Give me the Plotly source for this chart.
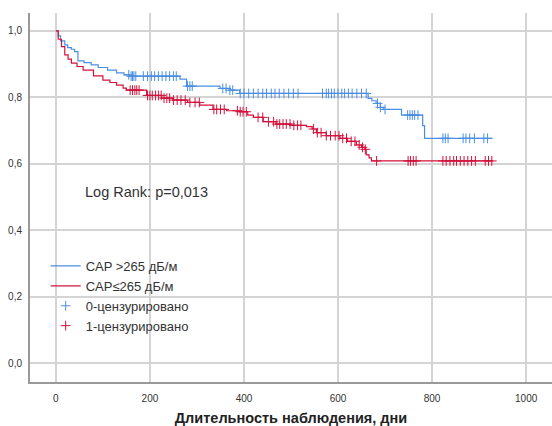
import numpy as np
import plotly.graph_objects as go

# Kaplan-Meier step data (time in days, survival)
blue_times = [0, 5, 10, 19, 25, 33, 40, 47, 60, 75, 90, 110, 129, 145, 157, 264, 278, 349, 370, 391,
              664, 672, 681, 690, 696, 735, 780, 784, 928]
blue_surv = [1.0, 0.985, 0.97, 0.958, 0.95, 0.945, 0.938, 0.91, 0.905, 0.898, 0.89, 0.882, 0.874, 0.868,
             0.864, 0.855, 0.834, 0.827, 0.822, 0.812, 0.797, 0.79, 0.782, 0.77, 0.764, 0.747, 0.715,
             0.677, 0.677]

red_times = [0, 5, 12, 19, 26, 33, 45, 58, 80, 100, 115, 129, 143, 150, 193, 225, 249, 280, 306, 334,
             363, 391, 408, 420, 441, 468, 500, 533, 545, 554, 575, 604, 620, 639, 650, 657, 660, 666,
             671, 928]
red_surv = [1.0, 0.975, 0.953, 0.928, 0.915, 0.903, 0.893, 0.882, 0.865, 0.852, 0.845, 0.837, 0.828,
            0.822, 0.806, 0.798, 0.792, 0.785, 0.777, 0.764, 0.76, 0.757, 0.747, 0.74, 0.727, 0.72,
            0.716, 0.712, 0.705, 0.694, 0.685, 0.677, 0.668, 0.657, 0.65, 0.644, 0.627, 0.618, 0.609,
            0.609]

blue_censor = [155, 160, 163, 166, 170, 186, 195, 203, 210, 218, 226, 234, 242, 250, 256, 280, 285, 290,
               355, 362, 370, 376, 392, 400, 410, 420, 430, 440, 448, 458, 466, 475, 485, 495, 505, 515,
               567, 575, 580, 586, 592, 600, 608, 614, 622, 630, 640, 650, 660, 684, 690, 700,
               748, 753, 758, 763, 770, 823, 828, 834, 866, 872, 880, 890, 910, 918]
red_censor = [158, 163, 168, 172, 177, 195, 200, 205, 212, 218, 224, 230, 236, 242, 250, 258, 266, 275,
              285, 296, 305, 336, 342, 350, 358, 386, 392, 398, 405, 430, 440, 452, 463, 470, 476, 483,
              490, 498, 506, 514, 521, 548, 556, 564, 575, 584, 594, 602, 610, 618, 628, 636, 645, 652,
              658, 682, 749, 754, 760, 766, 823, 830, 838, 846, 852, 860, 868, 876, 884, 892, 913, 920,
              927]

BLUE = "#4a8fe3"
RED = "#d3123c"


def surv_at(times, surv, ts):
    times = np.asarray(times)
    surv = np.asarray(surv)
    idx = np.searchsorted(times, np.asarray(ts), side="right") - 1
    return surv[idx]


fig = go.Figure()
fig.add_trace(go.Scatter(x=blue_times, y=blue_surv, mode="lines", line_shape="hv",
                         line=dict(color=BLUE, width=1.2), name="CAP >265 дБ/м"))
fig.add_trace(go.Scatter(x=red_times, y=red_surv, mode="lines", line_shape="hv",
                         line=dict(color=RED, width=1.2), name="CAP≤265 дБ/м"))
fig.add_trace(go.Scatter(x=blue_censor, y=surv_at(blue_times, blue_surv, blue_censor), mode="markers",
                         marker=dict(symbol="cross-thin", size=7, line=dict(color=BLUE, width=1)),
                         name="0-цензурировано"))
fig.add_trace(go.Scatter(x=red_censor, y=surv_at(red_times, red_surv, red_censor), mode="markers",
                         marker=dict(symbol="cross-thin", size=7, line=dict(color=RED, width=1)),
                         name="1-цензурировано"))

fig.add_annotation(x=57, y=0.515, xref="x", yref="y", text="Log Rank: p=0,013", showarrow=False,
                   xanchor="left", yanchor="middle",
                   font=dict(size=14.5, color="#333333", family="Arial, Liberation Sans"))

yvals = [0.0, 0.2, 0.4, 0.6, 0.8, 1.0]
ytext = ["0,0", "0,2", "0,4", "0,6", "0,8", "1,0"]
xvals = [0, 200, 400, 600, 800, 1000]

fig.update_layout(
    width=552, height=426,
    margin=dict(l=30, r=0, t=13, b=44),
    paper_bgcolor="white", plot_bgcolor="white",
    font=dict(family="Arial, Liberation Sans", size=10, color="#333333"),
    showlegend=True,
    legend=dict(x=0.03, y=0.355, xanchor="left", yanchor="top", bgcolor="rgba(0,0,0,0)",
                font=dict(size=13, color="#333333"), tracegroupgap=0, itemwidth=30),
    xaxis=dict(range=[-55, 1055], tickvals=xvals, showgrid=True, gridcolor="#d4d4d4", gridwidth=1.5,
               zeroline=False, showline=True, linecolor="#999999", linewidth=2, ticks="",
               ticklabelstandoff=6,
               title=dict(text="<b>Длительность наблюдения, дни</b>", font=dict(size=14.5, color="#222222"),
                          standoff=10)),
    yaxis=dict(range=[-0.056, 1.054], tickvals=yvals, ticktext=ytext, showgrid=True, gridcolor="#d4d4d4",
               gridwidth=1.5, zeroline=False, showline=True, linecolor="#999999", linewidth=2, ticks="",
               ticklabelstandoff=4),
)

fig.write_html("out.html")
